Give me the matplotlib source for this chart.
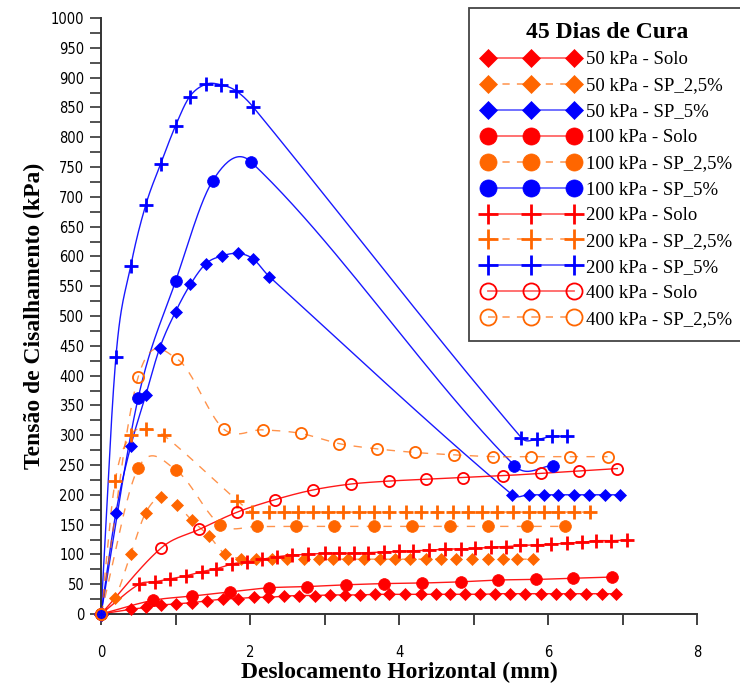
import numpy as np
import matplotlib.pyplot as plt
from matplotlib.lines import Line2D
from matplotlib.ticker import MultipleLocator

# ---- dados ----
x_50_solo = [0, 0.40, 0.61, 0.81, 1.01, 1.22, 1.42, 1.64, 1.84, 2.05, 2.24, 2.46, 2.66, 2.87, 3.08, 3.28, 3.48,
             3.68, 3.87, 4.08, 4.29, 4.49, 4.68, 4.89, 5.09, 5.29, 5.49, 5.69, 5.90, 6.11, 6.30, 6.51, 6.72, 6.91]
y_50_solo = [0, 8, 11, 15, 17, 19, 22, 25, 26, 28, 28, 30, 31, 31, 32, 32, 32, 33, 33, 33, 33, 33, 33, 33, 33,
             34, 34, 34, 34, 34, 34, 34, 34, 34]

x_50_sp25 = [0, 0.19, 0.40, 0.60, 0.81, 1.02, 1.22, 1.45, 1.66, 1.88, 2.08, 2.29, 2.50, 2.72, 2.92, 3.12, 3.32,
             3.53, 3.74, 3.94, 4.15, 4.36, 4.56, 4.77, 4.98, 5.19, 5.39, 5.59, 5.80]
y_50_sp25 = [0, 27, 101, 170, 197, 183, 157, 131, 101, 93, 92, 92, 92, 92, 92, 92, 92, 92, 92, 92, 92, 92, 92,
             92, 92, 92, 92, 92, 92]

x_50_sp5 = [0, 0.20, 0.40, 0.60, 0.79, 1.00, 1.20, 1.41, 1.63, 1.84, 2.04, 2.26, 5.52, 5.74, 5.95, 6.14, 6.35,
            6.55, 6.76, 6.97]
y_50_sp5 = [0, 170, 282, 367, 447, 507, 553, 588, 601, 605, 596, 566, 200, 200, 200, 200, 200, 200, 200, 200]

x_100_solo = [0, 0.70, 1.22, 1.73, 2.26, 2.77, 3.29, 3.80, 4.31, 4.83, 5.33, 5.84, 6.34, 6.86]
y_100_solo = [0, 23, 30, 37, 44, 46, 49, 51, 52, 54, 57, 58, 60, 62]

x_100_sp25 = [0, 0.50, 1.01, 1.60, 2.10, 2.62, 3.13, 3.66, 4.17, 4.68, 5.20, 5.72, 6.23]
y_100_sp25 = [0, 245, 241, 150, 147, 147, 147, 147, 147, 147, 147, 147, 147]

x_100_sp5 = [0, 0.50, 1.00, 1.50, 2.01, 5.55, 6.07]
y_100_sp5 = [0, 363, 558, 727, 759, 249, 249]

x_200_solo = [0, 0.51, 0.72, 0.93, 1.14, 1.35, 1.55, 1.76, 1.96, 2.16, 2.36, 2.57, 2.78, 3.00, 3.19, 3.40, 3.59,
              3.80, 4.00, 4.19, 4.40, 4.62, 4.83, 5.02, 5.23, 5.43, 5.63, 5.85, 6.04, 6.25, 6.45, 6.65, 6.85, 7.06]
y_200_solo = [0, 50, 54, 59, 64, 71, 76, 84, 88, 92, 96, 99, 100, 102, 102, 102, 103, 104, 105, 106, 107, 109,
              109, 110, 112, 113, 115, 116, 117, 119, 120, 123, 123, 124]

x_200_sp25 = [0, 0.19, 0.40, 0.61, 0.84, 1.83, 2.03, 2.25, 2.45, 2.65, 2.85, 3.05, 3.25, 3.46, 3.67, 3.87, 4.10,
              4.30, 4.51, 4.72, 4.92, 5.12, 5.32, 5.53, 5.74, 5.94, 6.14, 6.35, 6.56]
y_200_sp25 = [0, 223, 300, 310, 300, 190, 171, 171, 171, 171, 171, 171, 171, 171, 171, 171, 171, 171, 171, 171,
              171, 171, 171, 171, 171, 171, 171, 171, 171]

x_200_sp5 = [0, 0.20, 0.40, 0.60, 0.80, 1.00, 1.19, 1.41, 1.61, 1.81, 2.04, 5.64, 5.85, 6.05, 6.26]
y_200_sp5 = [0, 431, 584, 686, 755, 819, 868, 889, 888, 878, 851, 296, 293, 298, 298]

x_400_solo = [0, 0.81, 1.32, 1.83, 2.34, 2.84, 3.35, 3.86, 4.36, 4.86, 5.39, 5.91, 6.42, 6.93]
y_400_solo = [0, 111, 142, 171, 192, 208, 218, 223, 226, 229, 232, 236, 240, 244]

x_400_sp25 = [0, 0.50, 1.02, 1.65, 2.17, 2.68, 3.19, 3.71, 4.22, 4.74, 5.26, 5.77, 6.29, 6.80]
y_400_sp25 = [0, 398, 428, 310, 309, 303, 286, 277, 271, 267, 264, 264, 264, 264]

labels = ['50 kPa - Solo', '50 kPa - SP_2,5%', '50 kPa - SP_5%',
          '100 kPa - Solo', '100 kPa - SP_2,5%', '100 kPa - SP_5%',
          '200 kPa - Solo', '200 kPa - SP_2,5%', '200 kPa - SP_5%',
          '400 kPa - Solo', '400 kPa - SP_2,5%']

RED = '#ff0000'
ORA = '#ff6600'
BLU = '#0000ff'

series = [
    (x_50_solo, y_50_solo, RED, '-', 'D', True),
    (x_50_sp25, y_50_sp25, ORA, '--', 'D', True),
    (x_50_sp5, y_50_sp5, BLU, '-', 'D', True),
    (x_100_solo, y_100_solo, RED, '-', 'o', True),
    (x_100_sp25, y_100_sp25, ORA, '--', 'o', True),
    (x_100_sp5, y_100_sp5, BLU, '-', 'o', True),
    (x_200_solo, y_200_solo, RED, '-', '+', True),
    (x_200_sp25, y_200_sp25, ORA, '--', '+', True),
    (x_200_sp5, y_200_sp5, BLU, '-', '+', True),
    (x_400_solo, y_400_solo, RED, '-', 'o', False),
    (x_400_sp25, y_400_sp25, ORA, '--', 'o', False),
]


def smooth(x, y, n=25):
    # curva suave (hermite) passando pelos pontos, como a do Origin
    x = np.asarray(x, float)
    y = np.asarray(y, float)
    m = np.empty_like(y)
    m[1:-1] = (y[2:] - y[:-2]) / (x[2:] - x[:-2])
    m[0] = (y[1] - y[0]) / (x[1] - x[0])
    m[-1] = (y[-1] - y[-2]) / (x[-1] - x[-2])
    t = np.linspace(0, 1, n, endpoint=False)
    h00 = 2 * t**3 - 3 * t**2 + 1
    h10 = t**3 - 2 * t**2 + t
    h01 = -2 * t**3 + 3 * t**2
    h11 = t**3 - t**2
    xs, ys = [], []
    for i in range(len(x) - 1):
        h = x[i + 1] - x[i]
        xs.append(x[i] + t * h)
        ys.append(h00 * y[i] + h10 * h * m[i] + h01 * y[i + 1] + h11 * h * m[i + 1])
    xs.append([x[-1]])
    ys.append([y[-1]])
    return np.concatenate(xs), np.concatenate(ys)


def mstyle(marker, filled, color, big=False):
    k = 1.45 if big else 1.0
    if marker == 'D':
        return dict(marker='D', ms=6.5 * k, mfc=color, mec=color, mew=0.5)
    if marker == '+':
        return dict(marker='+', ms=10 * k, mfc=color, mec=color, mew=2.0)
    if filled:
        return dict(marker='o', ms=8.5 * k, mfc=color, mec=color, mew=0.5)
    return dict(marker='o', ms=8.0 * k, mfc='none', mec=color, mew=1.3)


fig = plt.figure(figsize=(7.4, 6.88), dpi=100)
ax = fig.add_axes([101 / 740, 74 / 688, 596 / 740, 596 / 688])

handles = []
for (x, y, c, ls, mk, filled) in series:
    xs, ys = smooth(x, y)
    if ls == '--':
        ax.plot(xs, ys, color=c, lw=1.0, ls=(0, (6, 6)), alpha=0.7, clip_on=False)
    else:
        ax.plot(xs, ys, color=c, lw=1.0, alpha=0.9, clip_on=False)
    ax.plot(x, y, ls='none', clip_on=False, zorder=3, **mstyle(mk, filled, c))
    hl = Line2D([], [], color=c, lw=1.3, alpha=0.6, ls=(0, (4, 4)) if ls == '--' else '-')
    hm = Line2D([], [], ls='none', **mstyle(mk, filled, c, big=True))
    handles.append((hl, hm))

ax.set_xlim(0, 8)
ax.set_ylim(0, 1000)
ax.spines['top'].set_visible(False)
ax.spines['right'].set_visible(False)
for s in ['left', 'bottom']:
    ax.spines[s].set_linewidth(1.4)
    ax.spines[s].set_color('#333333')

ax.xaxis.set_major_locator(MultipleLocator(2))
ax.xaxis.set_minor_locator(MultipleLocator(1))
ax.yaxis.set_major_locator(MultipleLocator(50))
ax.yaxis.set_minor_locator(MultipleLocator(25))
ax.tick_params(axis='x', which='both', direction='out', length=8, width=1.3, color='#333333', pad=14)
ax.tick_params(axis='y', which='both', direction='out', length=8, width=1.3, color='#444444', pad=4)

for lab in ax.get_xticklabels() + ax.get_yticklabels():
    lab.set_family('DejaVu Sans')
    lab.set_stretch('condensed')
    lab.set_fontsize(10.5)

ax.set_xlabel('Deslocamento Horizontal (mm)', family='Liberation Serif', fontweight='bold',
              fontsize=17, labelpad=2)
ax.set_ylabel('Tensão de Cisalhamento (kPa)', family='Liberation Serif', fontweight='bold',
              fontsize=17, labelpad=4)

leg = ax.legend(handles, labels, numpoints=3, loc='upper left',
                bbox_to_anchor=(469 / 740, 1 - 8 / 688), bbox_transform=fig.transFigure,
                borderaxespad=0, fancybox=False, framealpha=1, edgecolor='#444444',
                prop={'family': 'Liberation Serif', 'size': 13.5},
                title='45 Dias de Cura',
                title_fontproperties={'family': 'Liberation Serif', 'size': 17, 'weight': 'bold'},
                handlelength=5.2, handletextpad=0.3, labelspacing=0.47, borderpad=0.72)
leg.get_frame().set_linewidth(1.3)

fig.savefig('out.png', dpi=100)
